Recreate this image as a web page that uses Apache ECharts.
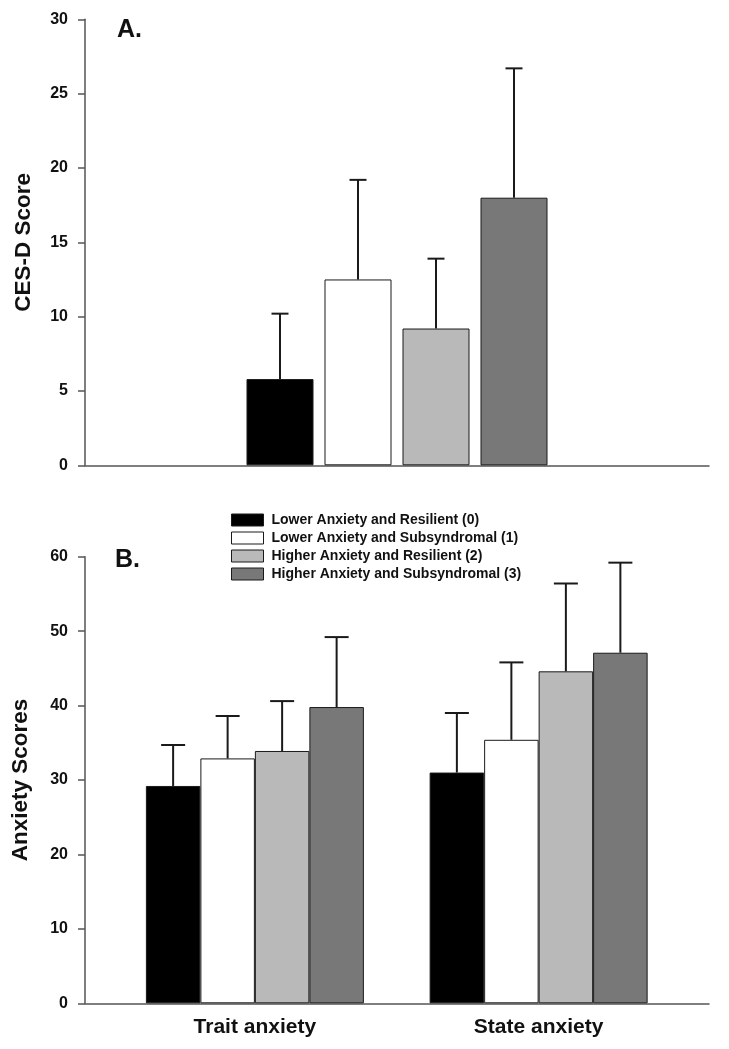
<!DOCTYPE html>
<html>
<head>
<meta charset="utf-8">
<script src="https://cdn.jsdelivr.net/npm/echarts@6/dist/echarts.min.js"></script>
<style>
html,body{margin:0;padding:0;background:#fff;}
#chart{width:729px;height:1049px;}
</style>
</head>
<body>
<div id="chart"></div>
<script>
const groupNames = [
  'Lower Anxiety and Resilient (0)',
  'Lower Anxiety and Subsyndromal (1)',
  'Higher Anxiety and Resilient (2)',
  'Higher Anxiety and Subsyndromal (3)'
];
const groupColors = ['#000000', '#ffffff', '#b9b9b9', '#787878'];

// Panel A: CES-D
const cesdCategories = ['CES-D'];
const cesdMeans = [5.8, 12.5, 9.2, 18.0];
const cesdUpper = [10.2, 19.2, 13.9, 26.7];
const cesdTicks = [0, 5, 10, 15, 20, 25, 30];

// Panel B: anxiety
const anxietyCategories = ['Trait anxiety', 'State anxiety'];
const traitMeans = [29.2, 32.9, 33.9, 39.8];
const traitUpper = [34.7, 38.6, 40.6, 49.2];
const stateMeans = [31.0, 35.4, 44.6, 47.1];
const stateUpper = [39.0, 45.8, 56.4, 59.2];
const anxietyTicks = [0, 10, 20, 30, 40, 50, 60];

const FONT = 'Liberation Sans, Arial, sans-serif';
const AXIS_COLOR = '#555';
const BORDER = '#1a1a1a';

const barWA = 67, gapA = 11, capA = 17;
const barWB = 54.5, capB = 24;

function errRender(offset, cap) {
  return function (params, api) {
    const base = api.coord([api.value(0), api.value(1)]);
    const top = api.coord([api.value(0), api.value(2)]);
    const cx = base[0] + offset;
    return {
      type: 'group',
      children: [
        {type: 'line', shape: {x1: cx, y1: base[1], x2: cx, y2: top[1]}, style: {stroke: BORDER, lineWidth: 2}},
        {type: 'line', shape: {x1: cx - cap / 2, y1: top[1], x2: cx + cap / 2, y2: top[1]}, style: {stroke: BORDER, lineWidth: 2}}
      ]
    };
  };
}

const tickLabel = {fontFamily: FONT, fontWeight: 'bold', fontSize: 16, color: '#111', margin: 17};
const nameStyle = {fontFamily: FONT, fontWeight: 'bold', fontSize: 22.5, color: '#111'};

const series = [];
groupNames.forEach((name, i) => {
  series.push({
    name: name, type: 'bar', xAxisIndex: 0, yAxisIndex: 0,
    data: [cesdMeans[i]], barWidth: barWA, barGap: (gapA / barWA * 100) + '%',
    itemStyle: {color: groupColors[i], borderColor: BORDER, borderWidth: 1},
    silent: true, z: 2
  });
});
groupNames.forEach((name, i) => {
  series.push({
    type: 'custom', xAxisIndex: 0, yAxisIndex: 0,
    data: [[0, cesdMeans[i], cesdUpper[i]]],
    encode: {x: 0, y: [1, 2]},
    renderItem: errRender((i - 1.5) * (barWA + gapA), capA),
    silent: true, z: 3
  });
});
groupNames.forEach((name, i) => {
  series.push({
    name: name, type: 'bar', xAxisIndex: 2, yAxisIndex: 2,
    data: [traitMeans[i], stateMeans[i]], barWidth: barWB, barGap: '0%',
    itemStyle: {color: groupColors[i], borderColor: BORDER, borderWidth: 1},
    silent: true, z: 2
  });
});
groupNames.forEach((name, i) => {
  series.push({
    type: 'custom', xAxisIndex: 2, yAxisIndex: 2,
    data: [[0, traitMeans[i], traitUpper[i]], [1, stateMeans[i], stateUpper[i]]],
    encode: {x: 0, y: [1, 2]},
    renderItem: errRender((i - 1.5) * barWB, capB),
    silent: true, z: 3
  });
});

const option = {
  backgroundColor: '#ffffff',
  animation: false,
  title: [
    {text: 'A.', left: 117, top: 18, padding: 0, textStyle: {fontFamily: FONT, fontWeight: 'bold', fontSize: 25, color: '#111'}},
    {text: 'B.', left: 115, top: 548, padding: 0, textStyle: {fontFamily: FONT, fontWeight: 'bold', fontSize: 25, color: '#111'}}
  ],
  legend: {
    data: groupNames, orient: 'vertical', left: 231, top: 513, padding: 0,
    itemWidth: 32, itemHeight: 12, itemGap: 4, icon: 'rect',
    selectedMode: false,
    itemStyle: {borderWidth: 1},
    textStyle: {fontFamily: FONT, fontWeight: 'bold', fontSize: 14, lineHeight: 12, color: '#111', padding: [0, 0, 0, 3]}
  },
  grid: [
    {left: 85, right: 20, top: 19.3, bottom: 583.7},
    {left: 85, right: 20, top: 556.7, bottom: 45.7},
    {left: 113, right: 48.5, top: 556.7, bottom: 45.7}
  ],
  xAxis: [
    {type: 'category', gridIndex: 0, data: cesdCategories,
     axisLine: {show: true, lineStyle: {color: AXIS_COLOR, width: 1.5}},
     axisTick: {show: false}, axisLabel: {show: false}},
    {type: 'value', gridIndex: 1, min: 0, max: 1,
     axisLine: {show: true, onZero: false, lineStyle: {color: AXIS_COLOR, width: 1.5}},
     axisTick: {show: false}, axisLabel: {show: false}, splitLine: {show: false}},
    {type: 'category', gridIndex: 2, data: anxietyCategories,
     axisLine: {show: false}, axisTick: {show: false},
     axisLabel: {fontFamily: FONT, fontWeight: 'bold', fontSize: 21, color: '#111', margin: 13}}
  ],
  yAxis: [
    {type: 'value', gridIndex: 0, min: 0, max: 30, interval: 5,
     name: 'CES-D Score', nameLocation: 'middle', nameRotate: 90, nameGap: 50,
     nameTextStyle: nameStyle,
     axisLine: {show: true, lineStyle: {color: AXIS_COLOR, width: 1.5}},
     axisTick: {show: true, length: 7, lineStyle: {color: AXIS_COLOR, width: 1.5}},
     axisLabel: Object.assign({}, tickLabel, {formatter: v => cesdTicks.includes(v) ? String(v) : ''}),
     splitLine: {show: false}},
    {type: 'value', gridIndex: 1, min: 0, max: 60, interval: 10,
     name: 'Anxiety Scores', nameLocation: 'middle', nameRotate: 90, nameGap: 53,
     nameTextStyle: nameStyle,
     axisLine: {show: true, lineStyle: {color: AXIS_COLOR, width: 1.5}},
     axisTick: {show: true, length: 7, lineStyle: {color: AXIS_COLOR, width: 1.5}},
     axisLabel: Object.assign({}, tickLabel, {formatter: v => anxietyTicks.includes(v) ? String(v) : ''}),
     splitLine: {show: false}},
    {type: 'value', gridIndex: 2, min: 0, max: 60, interval: 10, show: false, splitLine: {show: false}}
  ],
  series: series
};

const chart = echarts.init(document.getElementById('chart'), null, {renderer: 'canvas'});
chart.setOption(option);
</script>
</body>
</html>
